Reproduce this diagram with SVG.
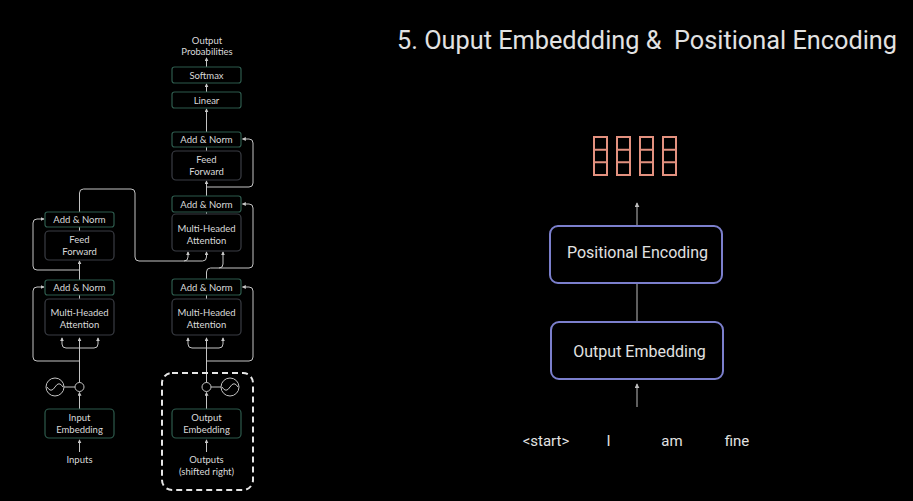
<svg xmlns="http://www.w3.org/2000/svg" width="913" height="501" viewBox="0 0 913 501">
<defs>
<marker id="ah" viewBox="0 0 6 6" refX="5" refY="3" markerWidth="4" markerHeight="4" orient="auto" markerUnits="userSpaceOnUse">
<path d="M0,0 L6,3 L0,6 Z" fill="#c8c8c8"/>
</marker>
<marker id="ahr" viewBox="0 0 6 6" refX="5" refY="3" markerWidth="5" markerHeight="5" orient="auto" markerUnits="userSpaceOnUse">
<path d="M0,0 L6,3 L0,6 Z" fill="#bdbdbd"/>
</marker>
</defs>
<style>
.lt{font-family:Lato,"Open Sans","DejaVu Sans",sans-serif;font-size:9.5px;fill:#dadada;text-anchor:middle}
.an{fill:#000;stroke:#2d5a4c;stroke-width:1.2}
.bx{fill:#000;stroke:#3a3d44;stroke-width:1.2}
.ln{fill:none;stroke:#c4c4c4;stroke-width:1}
.la{fill:none;stroke:#c4c4c4;stroke-width:1;marker-end:url(#ah)}
.rt{font-family:Roboto,"Liberation Sans",sans-serif;fill:#e2e2e2}
.pb{fill:#000;stroke:#7b7fcc;stroke-width:2}
.rd{fill:none;stroke:#e3917f;stroke-width:2}
.rl{fill:none;stroke:#bdbdbd;stroke-width:1}
</style>
<rect x="0" y="0" width="913" height="501" fill="#000"/>

<g id="connectors">
<!-- encoder -->
<path class="la" d="M79.5,452 L79.5,440"/>
<path class="la" d="M79.5,409 L79.5,392.5"/>
<path class="ln" d="M64,387 L75,387"/>
<path class="la" d="M79.5,382.5 L79.5,338"/>
<path class="la" d="M79.5,348 L66,348 Q62,348 62,344 L62,338"/>
<path class="la" d="M79.5,348 L94,348 Q98,348 98,344 L98,338"/>
<path class="la" d="M79.5,361 L37,361 Q33,361 33,357 L33,291 Q33,287 37,287 L44,287"/>
<path class="ln" d="M79.5,299 L79.5,295"/>
<path class="la" d="M79.5,280 L79.5,261"/>
<path class="la" d="M79.5,270 L37,270 Q33,270 33,266 L33,223 Q33,219 37,219 L44,219"/>
<path class="ln" d="M79.5,231 L79.5,227"/>
<path class="la" d="M79.5,212 L79.5,193 Q79.5,189 83.5,189 L131,189 Q135,189 135,193 L135,257 Q135,261 139,261 L184,261 Q188,261 188,257 L188,252"/>
<path class="la" d="M184,261 L202.5,261 Q206.5,261 206.5,257 L206.5,252"/>
<!-- decoder -->
<path class="la" d="M206.5,452 L206.5,440"/>
<path class="la" d="M206.5,409 L206.5,392.5"/>
<path class="ln" d="M211,387 L221,387"/>
<path class="la" d="M206.5,382.5 L206.5,338"/>
<path class="la" d="M206.5,348 L192,348 Q188,348 188,344 L188,338"/>
<path class="la" d="M206.5,348 L219,348 Q223,348 223,344 L223,338"/>
<path class="la" d="M206.5,361 L249,361 Q253,361 253,357 L253,291 Q253,287 249,287 L242.5,287"/>
<path class="ln" d="M206.5,299 L206.5,295"/>
<path class="la" d="M206.5,279 L206.5,272 Q206.5,268 210.5,268 L219,268 Q223,268 223,264 L223,252"/>
<path class="la" d="M219,268 L249,268 Q253,268 253,264 L253,208 Q253,204 249,204 L242.5,204"/>
<path class="ln" d="M206.5,214 L206.5,212"/>
<path class="la" d="M206.5,196 L206.5,181"/>
<path class="la" d="M206.5,187 L249,187 Q253,187 253,183 L253,143 Q253,139 249,139 L242.5,139"/>
<path class="ln" d="M206.5,151 L206.5,147"/>
<path class="la" d="M206.5,132 L206.5,109"/>
<path class="la" d="M206.5,92 L206.5,84"/>
<path class="la" d="M206.5,67 L206.5,58"/>
<!-- right side -->
<path class="rl" d="M637,225 L637,203" marker-end="url(#ahr)"/>
<path class="rl" d="M637,283 L637,322"/>
<path class="rl" d="M637,407 L637,384" marker-end="url(#ahr)"/>
</g>

<g id="output-probabilities">
<text class="lt" x="207" y="44">Output</text>
<text class="lt" x="207" y="55">Probabilities</text>
</g>
<g id="softmax">
<rect class="an" x="172" y="67" width="69" height="16" rx="2.5"/>
<text class="lt" x="206.5" y="78.5">Softmax</text>
</g>
<g id="linear">
<rect class="an" x="172" y="92" width="69" height="16" rx="2.5"/>
<text class="lt" x="206.5" y="103.5">Linear</text>
</g>
<g id="dec-addnorm-3">
<rect class="an" x="172" y="132" width="69" height="15" rx="2.5"/>
<text class="lt" x="206.5" y="143">Add &amp; Norm</text>
</g>
<g id="dec-feedforward">
<rect class="bx" x="172" y="151" width="69" height="29" rx="4"/>
<text class="lt" x="206.5" y="163">Feed</text>
<text class="lt" x="206.5" y="175">Forward</text>
</g>
<g id="dec-addnorm-2">
<rect class="an" x="172" y="196" width="69" height="16" rx="2.5"/>
<text class="lt" x="206.5" y="207.5">Add &amp; Norm</text>
</g>
<g id="dec-cross-attention">
<rect class="bx" x="172" y="214" width="69" height="37" rx="4"/>
<text class="lt" x="206.5" y="232">Multi-Headed</text>
<text class="lt" x="206.5" y="244">Attention</text>
</g>
<g id="dec-addnorm-1">
<rect class="an" x="172" y="279" width="69" height="16" rx="2.5"/>
<text class="lt" x="206.5" y="290.5">Add &amp; Norm</text>
</g>
<g id="dec-self-attention">
<rect class="bx" x="172" y="299" width="69" height="36" rx="4"/>
<text class="lt" x="206.5" y="316">Multi-Headed</text>
<text class="lt" x="206.5" y="328">Attention</text>
</g>
<g id="enc-addnorm-2">
<rect class="an" x="45" y="212" width="69" height="15" rx="2.5"/>
<text class="lt" x="79.5" y="223">Add &amp; Norm</text>
</g>
<g id="enc-feedforward">
<rect class="bx" x="45" y="231" width="69" height="29" rx="4"/>
<text class="lt" x="79.5" y="243">Feed</text>
<text class="lt" x="79.5" y="255">Forward</text>
</g>
<g id="enc-addnorm-1">
<rect class="an" x="45" y="280" width="69" height="15" rx="2.5"/>
<text class="lt" x="79.5" y="291">Add &amp; Norm</text>
</g>
<g id="enc-self-attention">
<rect class="bx" x="45" y="299" width="69" height="36" rx="4"/>
<text class="lt" x="79.5" y="316">Multi-Headed</text>
<text class="lt" x="79.5" y="328">Attention</text>
</g>
<g id="enc-positional">
<circle cx="79.5" cy="387" r="4.5" fill="none" stroke="#c4c4c4" stroke-width="1"/>
<circle cx="55" cy="387" r="9" fill="none" stroke="#c4c4c4" stroke-width="1"/>
<path d="M47,387 Q51,393.5 55,387 Q59,380.5 63,387" fill="none" stroke="#c4c4c4" stroke-width="1"/>
</g>
<g id="input-embedding">
<rect class="an" x="45" y="409" width="69" height="29" rx="4"/>
<text class="lt" x="79.5" y="421">Input</text>
<text class="lt" x="79.5" y="433">Embedding</text>
</g>
<g id="inputs">
<text class="lt" x="79.5" y="463">Inputs</text>
</g>
<g id="dec-positional">
<circle cx="206.5" cy="387" r="4.5" fill="none" stroke="#c4c4c4" stroke-width="1"/>
<circle cx="230" cy="387" r="9" fill="none" stroke="#c4c4c4" stroke-width="1"/>
<path d="M222,387 Q226,393.5 230,387 Q234,380.5 238,387" fill="none" stroke="#c4c4c4" stroke-width="1"/>
</g>
<g id="output-embedding-small">
<rect class="an" x="172" y="409" width="69" height="29" rx="4"/>
<text class="lt" x="206.5" y="421">Output</text>
<text class="lt" x="206.5" y="433">Embedding</text>
</g>
<g id="outputs">
<text class="lt" x="206.5" y="463">Outputs</text>
<text class="lt" x="206.5" y="475">(shifted right)</text>
</g>
<g id="highlight">
<rect x="162" y="373" width="91" height="117" rx="10" fill="none" stroke="#e6e6e6" stroke-width="2" stroke-dasharray="6 4"/>
</g>

<g id="title">
<text class="rt" x="397" y="49" font-size="25" textLength="500" lengthAdjust="spacingAndGlyphs" xml:space="preserve">5. Ouput Embeddding &amp;  Positional Encoding</text>
</g>
<g id="vectors">
<rect class="rd" x="594" y="137" width="13" height="38"/>
<path class="rd" d="M594,149.7 H607 M594,162.3 H607"/>
<rect class="rd" x="617" y="137" width="13" height="38"/>
<path class="rd" d="M617,149.7 H630 M617,162.3 H630"/>
<rect class="rd" x="640" y="137" width="13" height="38"/>
<path class="rd" d="M640,149.7 H653 M640,162.3 H653"/>
<rect class="rd" x="663" y="137" width="13" height="38"/>
<path class="rd" d="M663,149.7 H676 M663,162.3 H676"/>
</g>
<g id="positional-encoding">
<rect class="pb" x="550" y="226" width="172" height="57" rx="8"/>
<text class="rt" x="637.5" y="258" font-size="16" text-anchor="middle">Positional Encoding</text>
</g>
<g id="output-embedding">
<rect class="pb" x="551" y="322" width="172" height="57" rx="8"/>
<text class="rt" x="639.5" y="357" font-size="16" text-anchor="middle">Output Embedding</text>
</g>
<g id="tokens">
<text class="rt" x="546" y="446" font-size="15" text-anchor="middle" fill="#cfcfcf">&lt;start&gt;</text>
<text class="rt" x="608.5" y="446" font-size="15" text-anchor="middle" fill="#cfcfcf">I</text>
<text class="rt" x="672" y="446" font-size="15" text-anchor="middle" fill="#cfcfcf">am</text>
<text class="rt" x="737" y="446" font-size="15" text-anchor="middle" fill="#cfcfcf">fine</text>
</g>
</svg>
